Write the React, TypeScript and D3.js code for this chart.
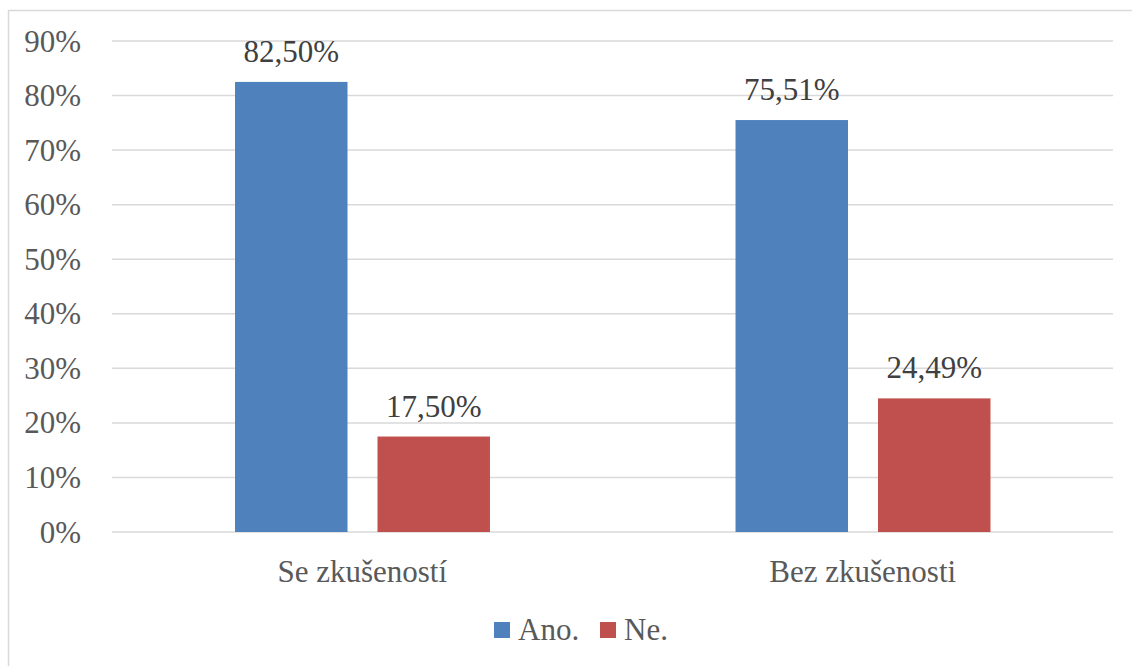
import React from "react";
import * as d3 from "d3";

const categories = ["Se zkušeností", "Bez zkušenosti"];
const seriesNames = ["Ano.", "Ne."];
const anoValues = [82.5, 75.51];
const neValues = [17.5, 24.49];
const valueLabels = [["82,50%", "17,50%"], ["75,51%", "24,49%"]];
const yTicks = [0, 10, 20, 30, 40, 50, 60, 70, 80, 90];
const colors = ["#4f81bd", "#c0504d"];

export default function App() {
  const W = 1132, H = 666;
  const left = 112, right = 1113, top = 41, bottom = 532;
  const y = d3.scaleLinear().domain([0, 90]).range([bottom, top]);
  const x0 = d3.scaleBand().domain(categories).range([left, right]).padding(0);
  const bw0 = x0.bandwidth();
  const x1 = d3
    .scaleBand()
    .domain(seriesNames)
    .range([bw0 * 0.2458, bw0 * 0.7552])
    .paddingInner(0.2105)
    .paddingOuter(0);
  const data = categories.map((c, i) => ({ c, vals: [anoValues[i], neValues[i]] }));
  const textColor = "#595959";
  const fam = "Liberation Serif";
  const size = 31;

  return (
    <svg width={W} height={H} style={{ position: "absolute", left: 0, top: 0 }}>
      <rect x={0} y={0} width={W} height={H} fill="#fff" />
      <rect x={8.5} y={10.5} width={1200} height={800} fill="none" stroke="#d9d9d9" strokeWidth={1.5} />
      {yTicks.map((t) => (
        <g key={t}>
          <line x1={left} x2={right} y1={y(t)} y2={y(t)} stroke="#d9d9d9" strokeWidth={1.5} />
          <text x={81} y={y(t) + 10.5} textAnchor="end" fontSize={size} fill={textColor} style={{ fontFamily: fam }}>
            {`${t}%`}
          </text>
        </g>
      ))}
      {data.map((d, i) => (
        <g key={d.c} transform={`translate(${x0(d.c)},0)`}>
          {d.vals.map((v, j) => (
            <g key={j}>
              <rect
                x={x1(seriesNames[j])}
                y={y(v)}
                width={x1.bandwidth()}
                height={y(0) - y(v)}
                fill={colors[j]}
              />
              <text
                x={(x1(seriesNames[j]) as number) + x1.bandwidth() / 2}
                y={y(v) - 20}
                textAnchor="middle"
                fontSize={size}
                fill="#404040"
                style={{ fontFamily: fam }}
              >
                {valueLabels[i][j]}
              </text>
            </g>
          ))}
          <text x={bw0 / 2} y={582} textAnchor="middle" fontSize={size} fill={textColor} style={{ fontFamily: fam }}>
            {d.c}
          </text>
        </g>
      ))}
      {seriesNames.map((s, j) => {
        const lx = [494, 600][j];
        return (
          <g key={s}>
            <rect x={lx} y={622} width={16} height={16} fill={colors[j]} />
            <text x={lx + 24} y={640} fontSize={size} fill={textColor} style={{ fontFamily: fam }}>
              {s}
            </text>
          </g>
        );
      })}
    </svg>
  );
}
